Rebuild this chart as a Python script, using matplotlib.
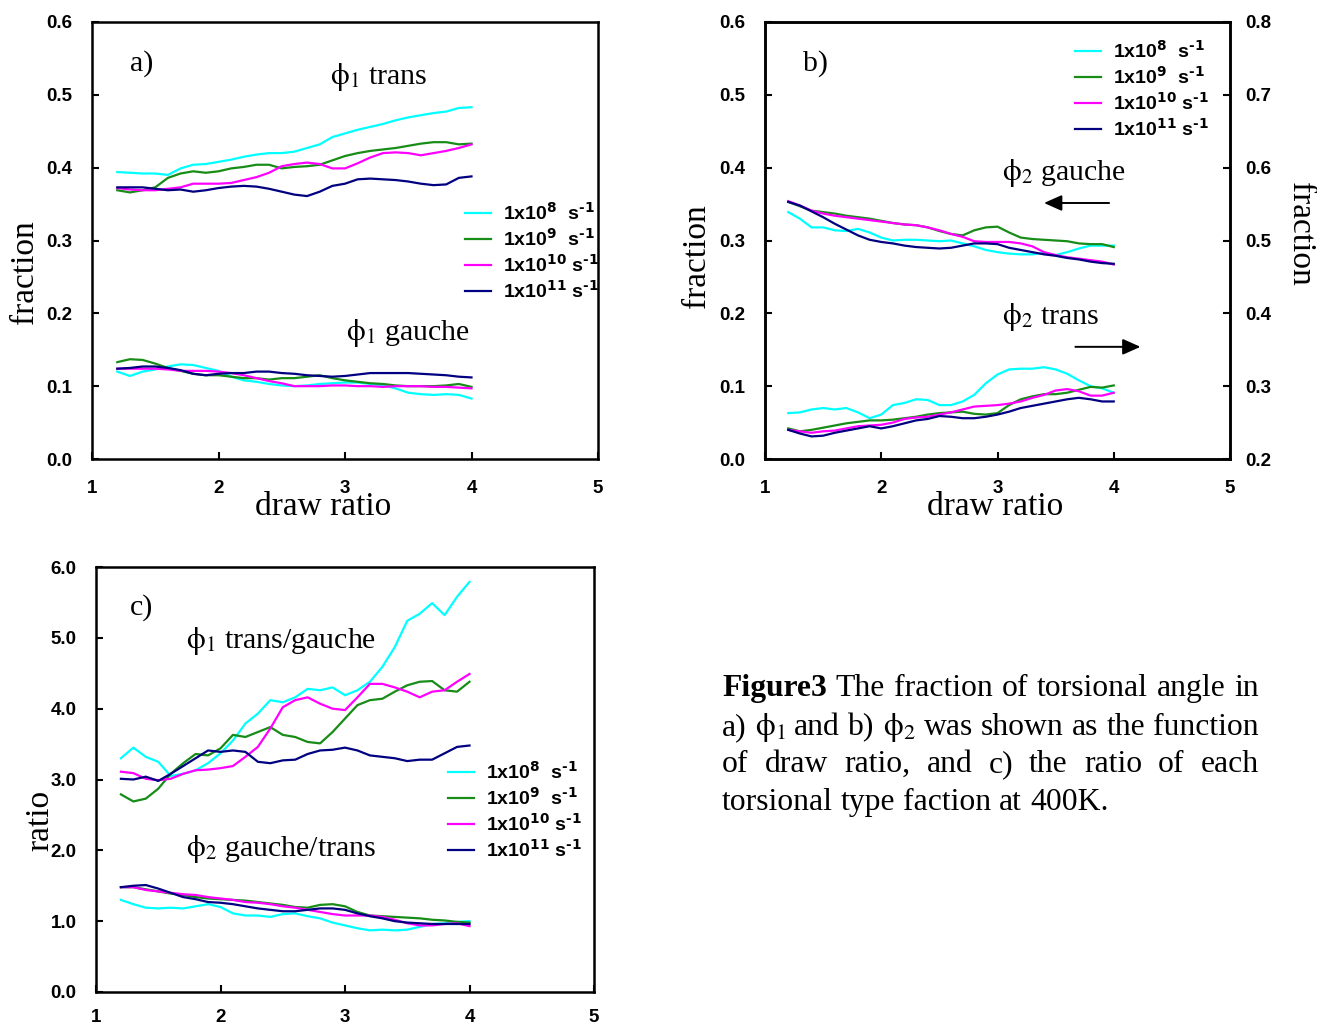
import numpy as np
import matplotlib
matplotlib.use('Agg')
import matplotlib.pyplot as plt

plt.rcParams['font.family'] = ['Liberation Serif', 'DejaVu Serif']
plt.rcParams['mathtext.fontset'] = 'stix'

W, H = 1317, 1027

# draw ratio grid (x) and legend entries
draw_ratio = np.round(np.arange(1.2, 4.01, 0.1), 1)
rates = ['1x10$^{\\mathbf{8}}$  s$^{\\mathbf{\u20101}}$', '1x10$^{\\mathbf{9}}$  s$^{\\mathbf{\u20101}}$',
         '1x10$^{\\mathbf{10}}$ s$^{\\mathbf{\u20101}}$', '1x10$^{\\mathbf{11}}$ s$^{\\mathbf{\u20101}}$']
colors = ['#00FFFF', '#178C17', '#FF00FF', '#000080']

# a) phi1 fractions  (order: 1e8, 1e9, 1e10, 1e11)
phi1_trans = [
    [0.394, 0.393, 0.392, 0.392, 0.390, 0.399, 0.404, 0.405, 0.408, 0.411, 0.415, 0.418, 0.420, 0.420,
     0.422, 0.427, 0.432, 0.442, 0.447, 0.452, 0.456, 0.460, 0.465, 0.469, 0.472, 0.475, 0.477, 0.482, 0.483],
    [0.369, 0.366, 0.369, 0.373, 0.386, 0.392, 0.395, 0.393, 0.395, 0.399, 0.401, 0.404, 0.404, 0.399,
     0.401, 0.402, 0.404, 0.410, 0.416, 0.420, 0.423, 0.425, 0.427, 0.430, 0.433, 0.435, 0.435, 0.432, 0.433],
    [0.372, 0.370, 0.369, 0.369, 0.371, 0.373, 0.378, 0.378, 0.378, 0.379, 0.383, 0.387, 0.393, 0.402,
     0.405, 0.407, 0.405, 0.399, 0.399, 0.406, 0.414, 0.420, 0.421, 0.420, 0.417, 0.420, 0.423, 0.427, 0.432],
    [0.373, 0.373, 0.373, 0.371, 0.369, 0.370, 0.367, 0.369, 0.372, 0.374, 0.375, 0.374, 0.371, 0.367,
     0.363, 0.361, 0.367, 0.375, 0.378, 0.384, 0.385, 0.384, 0.383, 0.381, 0.378, 0.376, 0.377, 0.386, 0.388],
]
phi1_gauche = [
    [0.120, 0.114, 0.120, 0.123, 0.127, 0.130, 0.129, 0.125, 0.121, 0.113, 0.108, 0.106, 0.103, 0.101,
     0.100, 0.101, 0.103, 0.104, 0.105, 0.105, 0.103, 0.101, 0.097, 0.091, 0.089, 0.088, 0.089, 0.088, 0.083],
    [0.133, 0.137, 0.136, 0.131, 0.125, 0.121, 0.117, 0.115, 0.115, 0.113, 0.111, 0.111, 0.109, 0.111,
     0.111, 0.113, 0.115, 0.111, 0.108, 0.106, 0.104, 0.103, 0.101, 0.100, 0.100, 0.100, 0.101, 0.103, 0.099],
    [0.124, 0.124, 0.124, 0.124, 0.123, 0.121, 0.121, 0.121, 0.120, 0.118, 0.115, 0.111, 0.107, 0.104,
     0.100, 0.100, 0.100, 0.101, 0.101, 0.100, 0.100, 0.099, 0.100, 0.100, 0.100, 0.099, 0.099, 0.098, 0.097],
    [0.124, 0.125, 0.127, 0.127, 0.125, 0.122, 0.117, 0.115, 0.117, 0.118, 0.118, 0.120, 0.120, 0.118,
     0.117, 0.115, 0.114, 0.113, 0.114, 0.116, 0.118, 0.118, 0.118, 0.118, 0.117, 0.116, 0.115, 0.113, 0.112],
]

# b) phi2 fractions: gauche on left axis, trans on right axis
phi2_gauche = [
    [0.339, 0.330, 0.318, 0.318, 0.314, 0.313, 0.316, 0.311, 0.304, 0.300, 0.301, 0.301, 0.300, 0.299,
     0.300, 0.296, 0.292, 0.287, 0.284, 0.282, 0.281, 0.281, 0.283, 0.280, 0.284, 0.289, 0.293, 0.293, 0.293],
    [0.353, 0.347, 0.341, 0.339, 0.337, 0.334, 0.332, 0.330, 0.327, 0.324, 0.322, 0.321, 0.318, 0.313,
     0.309, 0.307, 0.314, 0.318, 0.319, 0.311, 0.304, 0.302, 0.301, 0.300, 0.299, 0.296, 0.295, 0.295, 0.291],
    [0.354, 0.348, 0.341, 0.337, 0.334, 0.332, 0.330, 0.328, 0.326, 0.324, 0.322, 0.321, 0.318, 0.314,
     0.309, 0.305, 0.299, 0.298, 0.298, 0.298, 0.296, 0.292, 0.284, 0.280, 0.277, 0.275, 0.273, 0.271, 0.267],
    [0.353, 0.348, 0.340, 0.332, 0.323, 0.315, 0.307, 0.301, 0.298, 0.296, 0.293, 0.291, 0.290, 0.289,
     0.290, 0.293, 0.296, 0.296, 0.295, 0.290, 0.287, 0.284, 0.281, 0.279, 0.276, 0.274, 0.271, 0.269, 0.268],
]
phi2_trans = [
    [0.263, 0.264, 0.268, 0.270, 0.268, 0.270, 0.264, 0.256, 0.261, 0.274, 0.277, 0.282, 0.281, 0.274,
     0.274, 0.279, 0.288, 0.304, 0.316, 0.323, 0.324, 0.324, 0.326, 0.323, 0.317, 0.308, 0.300, 0.297, 0.291],
    [0.242, 0.238, 0.240, 0.243, 0.246, 0.249, 0.251, 0.253, 0.253, 0.254, 0.256, 0.258, 0.261, 0.263,
     0.264, 0.265, 0.262, 0.261, 0.263, 0.274, 0.282, 0.286, 0.289, 0.289, 0.291, 0.295, 0.299, 0.298, 0.301],
    [0.240, 0.238, 0.236, 0.238, 0.239, 0.242, 0.245, 0.246, 0.247, 0.250, 0.255, 0.257, 0.258, 0.261,
     0.264, 0.268, 0.272, 0.273, 0.274, 0.276, 0.279, 0.284, 0.288, 0.294, 0.296, 0.293, 0.287, 0.287, 0.291],
    [0.240, 0.235, 0.231, 0.232, 0.236, 0.239, 0.242, 0.245, 0.242, 0.245, 0.249, 0.253, 0.255, 0.259,
     0.258, 0.256, 0.256, 0.258, 0.261, 0.265, 0.270, 0.273, 0.276, 0.279, 0.282, 0.284, 0.282, 0.279, 0.279],
]

# c) ratios
ratio_trans_gauche = [
    [3.30, 3.45, 3.32, 3.25, 3.05, 3.08, 3.13, 3.23, 3.37, 3.55, 3.79, 3.93, 4.12, 4.09,
     4.16, 4.28, 4.26, 4.30, 4.19, 4.26, 4.38, 4.59, 4.87, 5.24, 5.34, 5.49, 5.32, 5.58, 5.79],
    [2.79, 2.69, 2.73, 2.87, 3.08, 3.23, 3.36, 3.34, 3.44, 3.63, 3.60, 3.67, 3.74, 3.63,
     3.60, 3.53, 3.51, 3.67, 3.86, 4.05, 4.12, 4.14, 4.24, 4.33, 4.38, 4.39, 4.26, 4.24, 4.38],
    [3.11, 3.09, 3.01, 2.99, 3.01, 3.08, 3.13, 3.14, 3.16, 3.19, 3.32, 3.46, 3.72, 4.02,
     4.12, 4.16, 4.07, 4.00, 3.98, 4.16, 4.35, 4.35, 4.30, 4.24, 4.16, 4.24, 4.26, 4.38, 4.49],
    [3.01, 3.00, 3.04, 2.98, 3.08, 3.19, 3.30, 3.41, 3.39, 3.41, 3.39, 3.25, 3.23, 3.27,
     3.28, 3.36, 3.41, 3.42, 3.45, 3.41, 3.34, 3.32, 3.30, 3.26, 3.28, 3.28, 3.37, 3.46, 3.48],
]
ratio_gauche_trans = [
    [1.30, 1.24, 1.19, 1.18, 1.19, 1.18, 1.21, 1.24, 1.20, 1.11, 1.08, 1.08, 1.06, 1.10,
     1.11, 1.07, 1.04, 0.98, 0.94, 0.90, 0.87, 0.88, 0.87, 0.88, 0.92, 0.96, 0.97, 0.99, 1.00],
    [1.48, 1.48, 1.45, 1.42, 1.39, 1.37, 1.34, 1.32, 1.31, 1.30, 1.29, 1.27, 1.25, 1.23,
     1.20, 1.19, 1.23, 1.24, 1.21, 1.13, 1.08, 1.07, 1.06, 1.05, 1.04, 1.02, 1.01, 0.99, 0.98],
    [1.48, 1.48, 1.44, 1.42, 1.40, 1.38, 1.37, 1.34, 1.32, 1.30, 1.27, 1.26, 1.24, 1.21,
     1.19, 1.16, 1.13, 1.10, 1.08, 1.08, 1.08, 1.06, 1.02, 0.97, 0.94, 0.94, 0.96, 0.97, 0.93],
    [1.48, 1.50, 1.51, 1.46, 1.40, 1.34, 1.31, 1.27, 1.26, 1.24, 1.21, 1.18, 1.16, 1.14,
     1.14, 1.16, 1.18, 1.18, 1.16, 1.11, 1.07, 1.04, 1.00, 0.98, 0.97, 0.96, 0.96, 0.96, 0.96],
]

x_ticks = [1, 2, 3, 4, 5]
sans = ['Liberation Sans', 'DejaVu Sans']
tick_fs = 13.5


def px(x, y):
    return x / W, 1 - y / H


def frame(left, top, right, bottom):
    return [left / W, 1 - bottom / H, (right - left) / W, (bottom - top) / H]


def style(ax, yticks, ylabels, xpad=15):
    ax.set_xlim(1, 5)
    ax.set_xticks(x_ticks, [str(t) for t in x_ticks], fontsize=tick_fs, fontweight='bold', family=sans)
    ax.set_ylim(yticks[0], yticks[-1])
    ax.set_yticks(yticks, ylabels, fontsize=tick_fs, fontweight='bold', family=sans)
    ax.tick_params(axis='x', direction='in', length=5, width=1.5, pad=xpad)
    ax.tick_params(axis='y', direction='in', length=5, width=1.5, pad=14)
    for s in ax.spines.values():
        s.set_linewidth(1.8)


def legend(ax, x, y):
    ax.legend(loc='center left', bbox_to_anchor=px(x, y), bbox_transform=fig.transFigure,
              frameon=False, borderpad=0, borderaxespad=0, handlelength=1.35, handletextpad=0.6,
              labelspacing=0.22, prop={'family': sans, 'weight': 'bold', 'size': 14,
                                       'math_fontfamily': 'dejavusans'})


fig = plt.figure(figsize=(W / 100, H / 100), dpi=100)

# ---- a) ----
ax_a = fig.add_axes(frame(92, 22, 598, 459))
for tr, ga, c, lab in zip(phi1_trans, phi1_gauche, colors, rates):
    ax_a.plot(draw_ratio, tr, color=c, lw=1.6, label=lab)
    ax_a.plot(draw_ratio, ga, color=c, lw=1.6)
style(ax_a, [0, 0.1, 0.2, 0.3, 0.4, 0.5, 0.6], ['0.0', '0.1', '0.2', '0.3', '0.4', '0.5', '0.6'])
legend(ax_a, 465, 252)

# ---- b) ----
ax_b = fig.add_axes(frame(765, 22, 1230, 459))
ax_b2 = ax_b.twinx()
for g, tr, c, lab in zip(phi2_gauche, phi2_trans, colors, rates):
    ax_b.plot(draw_ratio, g, color=c, lw=1.6, label=lab)
    ax_b2.plot(draw_ratio, tr, color=c, lw=1.6)
style(ax_b, [0, 0.1, 0.2, 0.3, 0.4, 0.5, 0.6], ['0.0', '0.1', '0.2', '0.3', '0.4', '0.5', '0.6'])
ax_b2.set_ylim(0.2, 0.8)
ax_b2.set_yticks([0.2, 0.3, 0.4, 0.5, 0.6, 0.7, 0.8],
                 ['0.2', '0.3', '0.4', '0.5', '0.6', '0.7', '0.8'],
                 fontsize=tick_fs, fontweight='bold', family=sans)
ax_b2.tick_params(direction='in', length=5, width=1.5, pad=11)
for s in ax_b2.spines.values():
    s.set_linewidth(1.8)
legend(ax_b, 1075, 90)
arrow = dict(arrowstyle='-|>,head_length=0.36,head_width=0.16', color='black', lw=1.4,
             mutation_scale=30, shrinkA=0, shrinkB=0)
ax_b.annotate('', xy=(3.40, 0.3515), xytext=(3.96, 0.3515), arrowprops=arrow)
ax_b.annotate('', xy=(4.23, 0.154), xytext=(3.67, 0.154), arrowprops=arrow)

# ---- c) ----
ax_c = fig.add_axes(frame(96, 567, 594, 992))
for tg, gt, c, lab in zip(ratio_trans_gauche, ratio_gauche_trans, colors, rates):
    ax_c.plot(draw_ratio, tg, color=c, lw=1.6, label=lab)
    ax_c.plot(draw_ratio, gt, color=c, lw=1.6)
style(ax_c, [0, 1, 2, 3, 4, 5, 6], ['0.0', '1.0', '2.0', '3.0', '4.0', '5.0', '6.0'], xpad=12)
legend(ax_c, 448, 811)

# ---- labels and annotations ----
lab_fs = 24
fig.text(*px(25, 272), 'fraction', rotation=90, fontsize=lab_fs, ha='center', va='center')
fig.text(*px(697, 256), 'fraction', rotation=90, fontsize=lab_fs, ha='center', va='center')
fig.text(*px(1300, 234), 'fraction', rotation=-90, fontsize=lab_fs, ha='center', va='center')
fig.text(*px(40, 820), 'ratio', rotation=90, fontsize=lab_fs, ha='center', va='center')
fig.text(*px(323, 507), 'draw ratio', fontsize=lab_fs, ha='center', va='center')
fig.text(*px(995, 507), 'draw ratio', fontsize=lab_fs, ha='center', va='center')

ann_fs = 21.5
fig.text(*px(130, 71), 'a)', fontsize=ann_fs, va='baseline')
fig.text(*px(803, 71), 'b)', fontsize=ann_fs, va='baseline')
fig.text(*px(130, 615), 'c)', fontsize=ann_fs, va='baseline')
fig.text(*px(330, 84), r'$\mathrm{\phi}_1$ trans', fontsize=ann_fs, va='baseline')
fig.text(*px(346, 340), r'$\mathrm{\phi}_1$ gauche', fontsize=ann_fs, va='baseline')
fig.text(*px(1002, 180), r'$\mathrm{\phi}_2$ gauche', fontsize=ann_fs, va='baseline')
fig.text(*px(1002, 324), r'$\mathrm{\phi}_2$ trans', fontsize=ann_fs, va='baseline')
fig.text(*px(186, 648), r'$\mathrm{\phi}_1$ trans/gauche', fontsize=ann_fs, va='baseline')
fig.text(*px(186, 856), r'$\mathrm{\phi}_2$ gauche/trans', fontsize=ann_fs, va='baseline')

# ---- caption, justified ----
cap_fs = 22.8
caption = [
    ([('Figure3', True), ('The', False), ('fraction', False), ('of', False), ('torsional', False),
      ('angle', False), ('in', False)], 696, True),
    ([('a)', False), (r'$\mathrm{\phi}_1$', False), ('and', False), ('b)', False), (r'$\mathrm{\phi}_2$', False),
      ('was', False), ('shown', False), ('as', False), ('the', False), ('function', False)], 735, True),
    ([('of', False), ('draw', False), ('ratio,', False), ('and', False), ('c)', False), ('the', False),
      ('ratio', False), ('of', False), ('each', False)], 772, True),
    ([('torsional', False), ('type', False), ('faction', False), ('at', False), ('400K.', False)], 810, False),
]
renderer = fig.canvas.get_renderer()
x0, x1 = 722, 1259
for words, yb, justify in caption:
    texts = [fig.text(0, 1 - yb / H, w, fontsize=cap_fs, va='baseline',
                      fontweight='bold' if b else 'normal') for w, b in words]
    widths = [t.get_window_extent(renderer).width for t in texts]
    gap = (x1 - x0 - sum(widths)) / (len(words) - 1) if justify else cap_fs * 0.25 * 100 / 72
    x = x0
    for t, w in zip(texts, widths):
        t.set_x(x / W)
        x += w + gap

fig.savefig('out.png', dpi=100)
